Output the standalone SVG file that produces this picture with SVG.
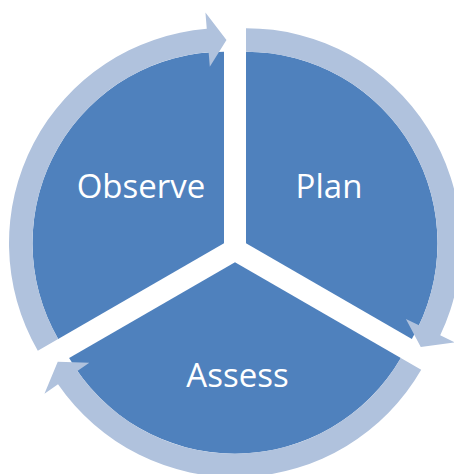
<svg xmlns="http://www.w3.org/2000/svg" width="454" height="474" viewBox="0 0 454 474">
  <defs>
    <style>
      .slice { fill: #4F81BD; }
      .arrow { fill: #B0C2DD; }
      .lbl { fill: #FFFFFF; font-family: "Open Sans", "Noto Sans", "Liberation Sans", sans-serif; font-size: 33px; text-anchor: middle; }
    </style>
    <path id="slicePath" d="M0,0 L-165.84,95.75 A191.5,191.5 0 0 1 0,-191.5 Z"/>
    <path id="arrowPath" d="M-186.19,107.5 A215,215 0 0 1 -17.24,-214.31 L-18.57,-230.75 L2.48,-203.23 L-14.2,-176.43 L-15.36,-190.88 A191.5,191.5 0 0 0 -165.84,95.75 Z"/>
  </defs>
  <rect width="454" height="474" fill="#FFFFFF"/>
  <g id="observe">
    <use href="#slicePath" class="slice" transform="translate(224 243.15)"/>
    <text class="lbl" x="141" y="198">Observe</text>
  </g>
  <g id="plan">
    <use href="#slicePath" class="slice" transform="translate(246 243.15) rotate(120)"/>
    <text class="lbl" x="329" y="198">Plan</text>
  </g>
  <g id="assess">
    <use href="#slicePath" class="slice" transform="translate(235 262.2) rotate(240)"/>
    <text class="lbl" x="237.5" y="387">Assess</text>
  </g>
  <g id="connectors">
    <use href="#arrowPath" class="arrow" transform="translate(224 243.15)"/>
    <use href="#arrowPath" class="arrow" transform="translate(246 243.15) rotate(120)"/>
    <use href="#arrowPath" class="arrow" transform="translate(235 262.2) rotate(240)"/>
  </g>
</svg>
